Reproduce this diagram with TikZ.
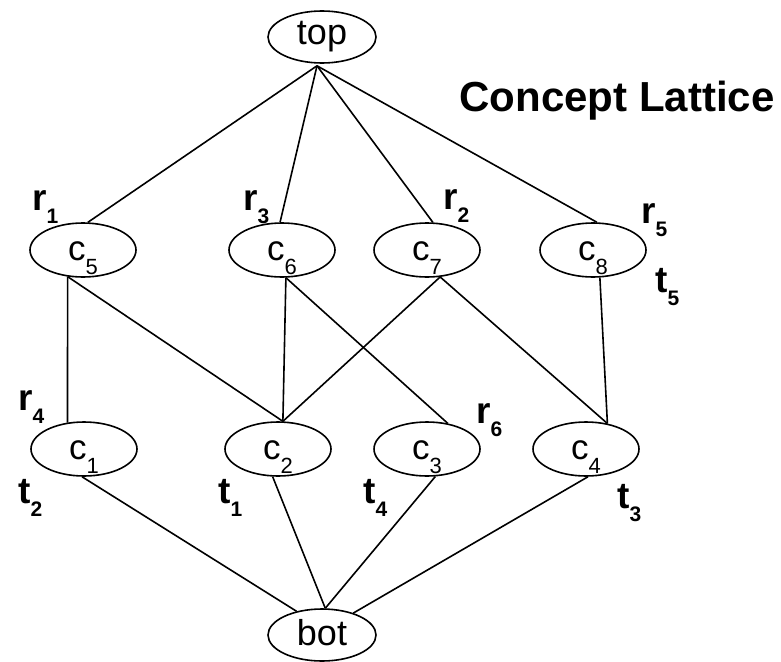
\documentclass[tikz,border=0pt]{standalone}
\usepackage{fontspec}
\setmainfont{Liberation Sans}
\usetikzlibrary{shapes.geometric,calc}
\newcommand\nsub[1]{\raisebox{-14pt}{\fontsize{22}{22}\selectfont #1}}
\newcommand\lsub[1]{\raisebox{-13pt}{\fontsize{21}{21}\selectfont\bfseries #1}}
\begin{document}
\begin{tikzpicture}[x=1pt,y=-1pt,
  cn/.style={ellipse,draw,line width=1.6pt,minimum width=106pt,minimum height=54pt,
    inner sep=0pt,font=\fontsize{35}{35}\selectfont,text height=22pt,text depth=2pt},
  tb/.style={cn,minimum width=108pt,minimum height=52pt,font=\fontsize{36}{36}\selectfont},
  lab/.style={anchor=base west,inner sep=0pt,font=\fontsize{37}{37}\selectfont\bfseries},
  edge/.style={line width=1.6pt}]
\useasboundingbox (0,0) rectangle (781,661);
% nodes
\node[tb,text height=18pt] (top) at (322,37) {top};
\node[tb] (bot) at (322,635) {bot};
\node[cn] (c5) at (83,250) {c\nsub{5}};
\node[cn] (c6) at (282,250) {c\nsub{6}};
\node[cn] (c7) at (427,250) {c\nsub{7}};
\node[cn] (c8) at (593,250) {c\nsub{8}};
\node[cn] (c1) at (84,449) {c\nsub{1}};
\node[cn] (c2) at (278,449) {c\nsub{2}};
\node[cn] (c3) at (427,449) {c\nsub{3}};
\node[cn] (c4) at (586,449) {c\nsub{4}};
% labels
\node[lab] (r1) at (32,210) {r\lsub{1}};
\node[lab] (r3) at (243,210) {r\lsub{3}};
\node[lab] (r2) at (443,209) {r\lsub{2}};
\node[lab] (r5) at (641,223) {r\lsub{5}};
\node[lab] (t5) at (655,292) {t\lsub{5}};
\node[lab] (r4) at (18,410) {r\lsub{4}};
\node[lab] (t2) at (18,503) {t\lsub{2}};
\node[lab] (t1) at (218,503) {t\lsub{1}};
\node[lab] (t4) at (363,503) {t\lsub{4}};
\node[lab] (r6) at (476,423) {r\lsub{6}};
\node[lab] (t3) at (617,508) {t\lsub{3}};
\node[anchor=base,inner sep=0pt,font=\fontsize{42}{42}\selectfont\bfseries] (title) at (617,111) {Concept Lattice};
% edges
\coordinate (tj) at ($(top.south)+(-5,2)$);
\draw[edge] (tj) -- (c5.80);
\draw[edge] (tj) -- (c6.94);
\draw[edge] (tj) -- (c7.78);
\draw[edge] (tj) -- (c8.82);
\draw[edge] (c5.240) -- (c1.122);
\draw[edge] (c5.240) -- (c2.80);
\draw[edge] (c6.278) -- (c2.80);
\draw[edge] (c6.278) -- (c3.51);
\draw[edge] (c7.296) -- (c2.80);
\draw[edge] (c7.296) -- (c4.50);
\draw[edge] (c8.284) -- (c4.50);
\draw[edge] (c1.266) -- (bot.137);
\draw[edge] (c2.259) -- (bot.83);
\draw[edge] (c3.287) -- (bot.83);
\draw[edge] (c4.274) -- (bot.35);
\end{tikzpicture}
\end{document}
